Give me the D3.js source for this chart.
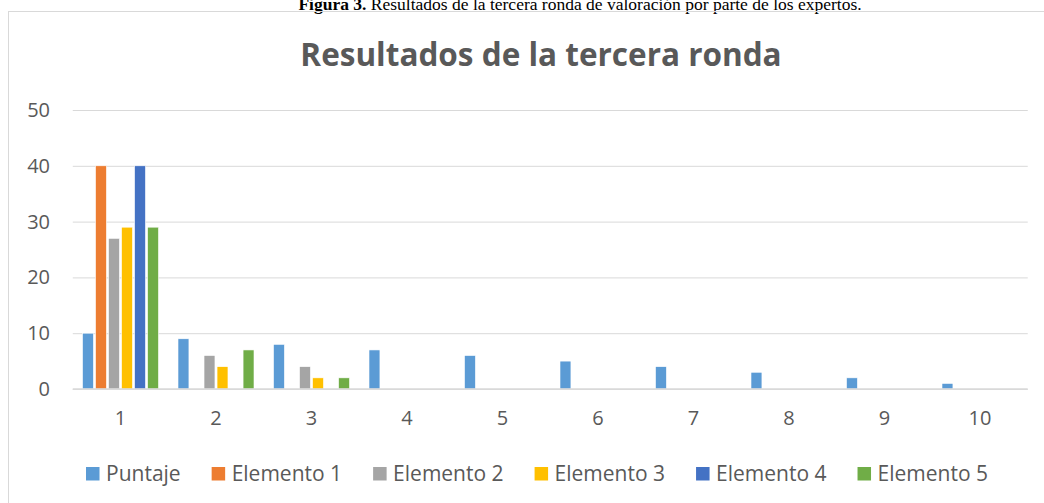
<!DOCTYPE html>
<html><head><meta charset="utf-8">
<script src="https://cdn.jsdelivr.net/npm/d3@7"></script>
<style>body{margin:0;background:#fff}svg{display:block}</style>
</head><body>
<svg id="c" width="1044" height="503"></svg>
<script>
const categories = ["1","2","3","4","5","6","7","8","9","10"];
const seriesNames = ["Puntaje","Elemento 1","Elemento 2","Elemento 3","Elemento 4","Elemento 5"];
const puntaje   = [10,9,8,7,6,5,4,3,2,1];
const elemento1 = [40,0,0,0,0,0,0,0,0,0];
const elemento2 = [27,6,4,0,0,0,0,0,0,0];
const elemento3 = [29,4,2,0,0,0,0,0,0,0];
const elemento4 = [40,0,0,0,0,0,0,0,0,0];
const elemento5 = [29,7,2,0,0,0,0,0,0,0];
const yTicks = [0,10,20,30,40,50];
const colors = ["#5B9BD5","#ED7D31","#A5A5A5","#FFC000","#4472C4","#70AD47"];
const series = [puntaje,elemento1,elemento2,elemento3,elemento4,elemento5];

const svg = d3.select("#c");
const font = "'Open Sans', sans-serif";
const txt = "#595959";

// caption
const cap = svg.append("text").attr("x",580).attr("y",10).attr("text-anchor","middle")
  .attr("font-family","'Liberation Serif','Times New Roman',serif").attr("font-size",17.5).attr("fill","#000");
cap.append("tspan").attr("font-weight","bold").text("Figura 3.");
cap.append("tspan").text(" Resultados de la tercera ronda de valoración por parte de los expertos.");

// chart frame
svg.append("rect").attr("x",8.5).attr("y",11.5).attr("width",1100).attr("height",600)
  .attr("fill","none").attr("stroke","#d9d9d9").attr("stroke-width",1);

// title
svg.append("text").attr("x",541).attr("y",66).attr("text-anchor","middle")
  .attr("font-family",font).attr("font-weight","bold").attr("font-size",31.5).attr("fill",txt)
  .text("Resultados de la tercera ronda");

const x0 = d3.scaleBand().domain(categories).range([72.75,1027.75]).padding(0);
const y = d3.scaleLinear().domain([0,50]).range([389,110]);
const x1 = d3.scaleBand().domain(seriesNames).range([0,76]).paddingInner(0.16).paddingOuter(0);
const groupOffset = (x0.bandwidth()-76)/2;

// gridlines
const grid = svg.append("g").call(d3.axisLeft(y).tickValues(yTicks).tickSize(-(1027.75-72.75)).tickFormat(""))
  .attr("transform","translate(72.75,0)");
grid.select(".domain").remove();
grid.selectAll("line").attr("stroke","#d9d9d9").attr("stroke-width",1);

// y labels
const ya = svg.append("g").attr("transform","translate(50,0)")
  .call(d3.axisLeft(y).tickValues(yTicks).tickSize(0).tickPadding(0));
ya.select(".domain").remove();
ya.selectAll("text").attr("font-family",font).attr("font-size",20).attr("fill",txt);

// bars
series.forEach((vals,si)=>{
  svg.append("g").selectAll("rect").data(vals.map((v,i)=>({v,c:categories[i]}))).join("rect")
    .filter(d=>d.v>0)
    .attr("x",d=>x0(d.c)+groupOffset+x1(seriesNames[si]))
    .attr("width",x1.bandwidth())
    .attr("y",d=>y(d.v))
    .attr("height",d=>y(0)-y(d.v))
    .attr("fill",colors[si]).attr("stroke","#fff").attr("stroke-width",0.6);
});

// x axis line
svg.append("line").attr("x1",72.75).attr("x2",1027.75).attr("y1",y(0)).attr("y2",y(0))
  .attr("stroke","#d9d9d9").attr("stroke-width",1.5);

// x labels
const xa = svg.append("g").attr("transform","translate(0,"+(y(0))+")")
  .call(d3.axisBottom(x0).tickSize(0).tickPadding(22));
xa.select(".domain").remove();
xa.selectAll("text").attr("font-family",font).attr("font-size",20).attr("fill",txt);

// legend
const lg = svg.append("g");
const items = seriesNames.map((n,i)=>{
  const g = lg.append("g");
  g.append("rect").attr("y",467).attr("width",13.5).attr("height",13.5).attr("fill",colors[i]);
  const t = g.append("text").attr("x",20).attr("y",481).attr("font-family",font).attr("font-size",21).attr("fill",txt).text(n);
  return {g, w: 20 + t.node().getComputedTextLength()};
});
const gap = 31;
const total = d3.sum(items,d=>d.w)+gap*(items.length-1);
let cx = 537 - total/2;
items.forEach(it=>{ it.g.attr("transform","translate("+cx+",0)"); cx += it.w+gap; });
</script>
</body></html>
